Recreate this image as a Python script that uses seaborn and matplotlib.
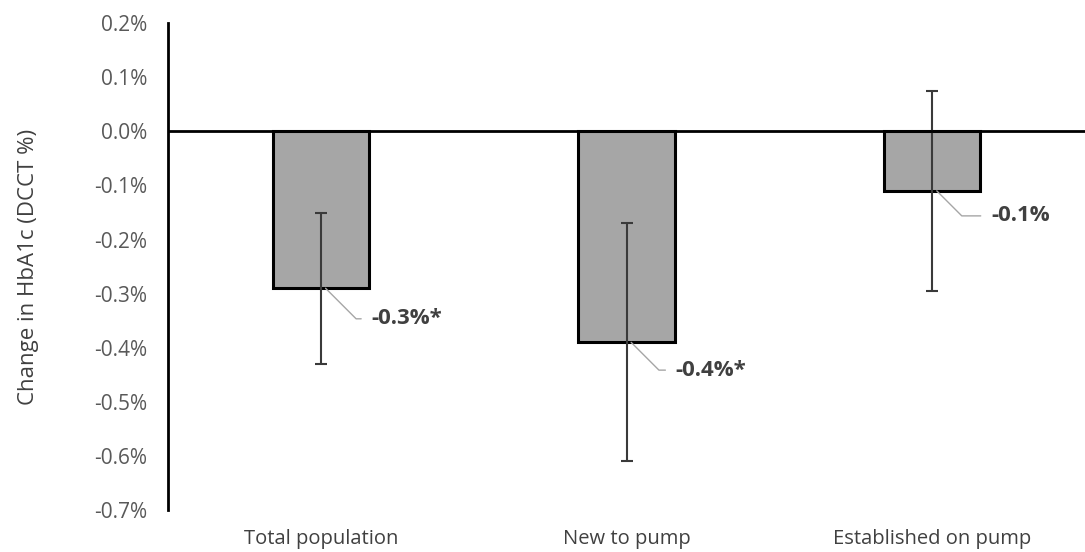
import pandas as pd
import matplotlib
matplotlib.use("Agg")
import matplotlib.pyplot as plt
import seaborn as sns
from matplotlib.ticker import FuncFormatter

# data (HbA1c change, DCCT %)
groups = ["Total population", "New to pump", "Established on pump"]
change = [-0.29, -0.39, -0.11]
ci_low = [-0.43, -0.61, -0.295]
ci_high = [-0.15, -0.17, 0.075]
labels = ["-0.3%*", "-0.4%*", "-0.1%"]
yticks = [0.2, 0.1, 0.0, -0.1, -0.2, -0.3, -0.4, -0.5, -0.6, -0.7]

sns.set_style("white")
plt.rcParams["font.family"] = ["Open Sans", "DejaVu Sans"]

df = pd.DataFrame({"group": groups, "change": change})

fig = plt.figure(figsize=(10.85, 5.52), dpi=100)
ax = fig.add_axes([0.155, 0.076, 0.845, 0.882])

sns.barplot(data=df, x="group", y="change", color="#a6a6a6", saturation=1,
            edgecolor="black", linewidth=2.2, width=0.315, ax=ax, zorder=2)

# asymmetric error bars
lower = [c - lo for c, lo in zip(change, ci_low)]
upper = [hi - c for c, hi in zip(change, ci_high)]
ax.errorbar(range(len(groups)), change, yerr=[lower, upper], fmt="none",
            ecolor="#3a3a3a", elinewidth=1.5, capsize=4.3, capthick=1.5, zorder=3)

ax.axhline(0, color="black", linewidth=2, zorder=4)

# value labels with leader lines
offsets = [(33, -22), (32, -20), (39, -18)]
for i, (val, lab) in enumerate(zip(change, labels)):
    ax.annotate(lab, xy=(i + 0.015, val), xytext=offsets[i], textcoords="offset points",
                ha="left", va="center", fontsize=16, fontweight="bold", color="#404040",
                arrowprops=dict(arrowstyle="-", color="#a6a6a6", lw=1,
                                connectionstyle="angle,angleA=0,angleB=-45,rad=0",
                                relpos=(0, 0.5), shrinkA=5, shrinkB=0),
                zorder=5)

ax.set_ylim(-0.7, 0.2)
ax.set_xlim(-0.5, 2.5)
ax.set_yticks(yticks)
ax.yaxis.set_major_formatter(FuncFormatter(lambda v, p: f"{v:.1f}%"))
ax.tick_params(axis="y", length=0, labelsize=15, labelcolor="#595959", pad=15)
ax.tick_params(axis="x", length=0, labelsize=14.5, labelcolor="#404040", pad=14)
ax.set_xlabel("")
ax.set_ylabel("Change in HbA1c (DCCT %)", fontsize=16, color="#404040")
ax.yaxis.set_label_coords(-0.141, 0.5)

for side in ["top", "right", "bottom"]:
    ax.spines[side].set_visible(False)
ax.spines["left"].set_color("black")
ax.spines["left"].set_linewidth(2)

fig.savefig("out.png", dpi=100)
